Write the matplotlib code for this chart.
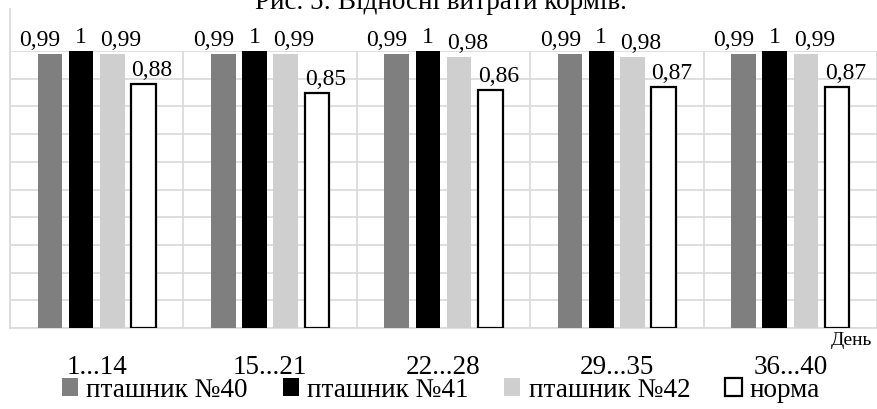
import matplotlib
matplotlib.use('Agg')
import matplotlib.pyplot as plt
from matplotlib.lines import Line2D
import numpy as np

plt.rcParams['font.family'] = ['Liberation Serif', 'DejaVu Serif']

# data
periods = ['1...14', '15...21', '22...28', '29...35', '36...40']
series_names = ['пташник №40', 'пташник №41', 'пташник №42', 'норма']
bird_40 = [0.99, 0.99, 0.99, 0.99, 0.99]
bird_41 = [1, 1, 1, 1, 1]
bird_42 = [0.99, 0.99, 0.98, 0.98, 0.99]
norm = [0.88, 0.85, 0.86, 0.87, 0.87]

# style
face_colors = ['#7f7f7f', '#000000', '#cfcfcf', '#ffffff']
edge_colors = ['#7f7f7f', '#000000', '#cfcfcf', '#000000']
edge_widths = [0, 0, 0, 1.6]
label_shift = [-7, 0, 6, 6]  # points, to keep labels from overlapping
grid_col = '#d9d9d9'

fig = plt.figure(figsize=(8.77, 4.10), dpi=100)
ax = fig.add_axes((10 / 877, 1 - 329 / 410, 1 - 10 / 877, (329 - 52) / 410))

x = np.arange(len(periods))
pitch = 0.18
bar_w = 0.141
all_series = [bird_40, bird_41, bird_42, norm]

for j, vals in enumerate(all_series):
    xs = x + (j - 1.5) * pitch
    bars = ax.bar(xs, vals, width=bar_w, color=face_colors[j],
                  edgecolor=edge_colors[j], linewidth=edge_widths[j],
                  label=series_names[j], zorder=3)
    for b, v in zip(bars, vals):
        txt = ('%g' % v).replace('.', ',')
        ax.annotate(txt, (b.get_x() + b.get_width() / 2, v),
                    xytext=(label_shift[j], 6.5), textcoords='offset points',
                    ha='center', va='baseline', fontsize=17, zorder=4,
                    annotation_clip=False)

ax.set_xlim(-0.5, len(periods) - 0.5)
ax.set_ylim(0, 1)

# horizontal grid
ax.set_yticks(np.arange(0, 1.01, 0.1))
ax.yaxis.grid(True, color=grid_col, linewidth=1.2, zorder=0)
# vertical lines between categories
for b in np.arange(-0.5, len(periods), 1.0):
    ax.axvline(b, color=grid_col, linewidth=1.2, zorder=0)

ax.set_xticks(x)
ax.set_xticklabels(periods, fontsize=19.5)
ax.tick_params(axis='x', length=0, pad=19)
ax.tick_params(axis='y', length=0, labelleft=False)
for s in ['top', 'right', 'left']:
    ax.spines[s].set_visible(False)
ax.spines['bottom'].set_color(grid_col)
ax.spines['bottom'].set_linewidth(1.2)

# left border extends above the plot area
fig.add_artist(Line2D([10 / 877, 10 / 877], [1 - 10 / 410, 1 - 329 / 410],
                      color=grid_col, linewidth=1.2, transform=fig.transFigure))

# axis name
fig.text(872 / 877, 1 - 345 / 410, 'День', ha='right', va='baseline', fontsize=14)

# title, partly cut off at the top (as in the source)
fig.text(441 / 877, 1 - 9 / 410, 'Рис. 5: Відносні витрати кормів.',
         ha='center', va='baseline', fontsize=19.5)

fig.legend(loc='center', bbox_to_anchor=(441 / 877, 1 - 391 / 410), ncol=4,
           frameon=False, fontsize=19.5, handlelength=0.6, handleheight=0.6,
           handletextpad=0.3, columnspacing=1.3, borderpad=0, borderaxespad=0)

fig.savefig('out.png', dpi=100)
